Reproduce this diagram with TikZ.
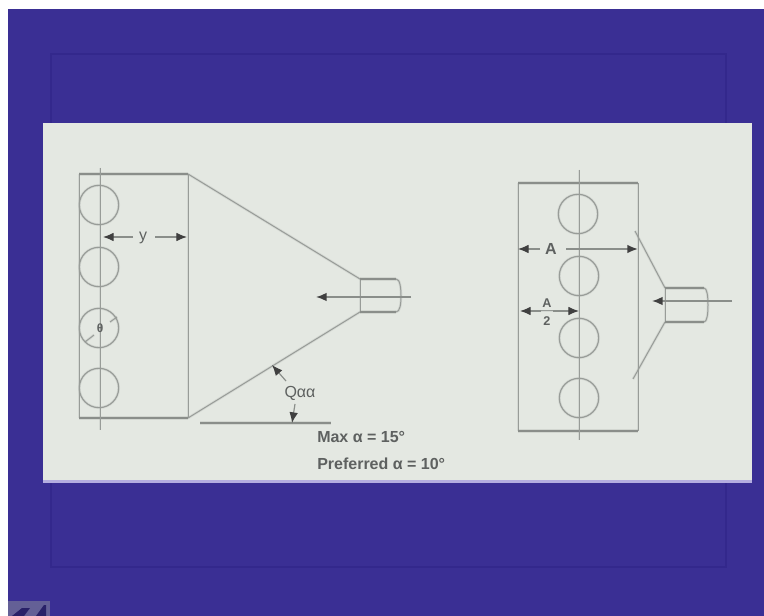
\documentclass[tikz,border=0pt]{standalone}
\usepackage{fontspec}
\setmainfont{Liberation Sans}
\usetikzlibrary{arrows.meta}
\definecolor{slide}{HTML}{3A2F94}
\definecolor{frameblue}{HTML}{33288C}
\definecolor{panel}{HTML}{E4E8E2}
\definecolor{edgelav}{HTML}{B4AEE0}
\definecolor{ink}{HTML}{989C98}
\definecolor{heavy}{HTML}{8A8E8A}
\definecolor{txt}{HTML}{5E6160}
\tikzset{
  thin line/.style={draw=ink,line width=.75pt,preaction={draw=ink,line width=2pt,opacity=.2}},
  heavy line/.style={draw=heavy,line width=1.5pt,preaction={draw=heavy,line width=3pt,opacity=.2}},
  bore/.style={circle,draw=ink,line width=.85pt,minimum size=29.5pt,inner sep=0pt,preaction={draw=ink,line width=2pt,opacity=.2}},
  dim/.style={draw=heavy,line width=.9pt,-{Latex[length=8pt,width=6.5pt,black!75]}},
  lab/.style={inner sep=0pt,text=txt,font=\fontsize{12pt}{14pt}\selectfont},
  note/.style={inner sep=0pt,anchor=west,text=txt,font=\fontsize{12pt}{14pt}\selectfont\bfseries}
}
\begin{document}
\begin{tikzpicture}[x=.75pt,y=-.75pt]
\useasboundingbox (0,0) rectangle (764,616);
\fill[white] (0,0) rectangle (764,616);
\fill[slide] (8,9) rectangle (764,616);
\draw[frameblue,line width=1.4pt] (51,54) rectangle (726,567);
\fill[edgelav] (43,478) rectangle (752,483);
\fill[panel] (43,123) rectangle (752,480);
\fill[ink!45!slide] (8,601) -- (50,601) -- (50,616) -- (8,616) -- cycle;
\fill[slide!70!black] (12,616) -- (22,608) -- (30,608) -- (24,616) -- cycle;
\fill[slide!70!black] (36,616) -- (44,605) -- (46,605) -- (46,616) -- cycle;

% left figure
\coordinate (lTL) at (79,174); \coordinate (lTR) at (188,174);
\coordinate (lBL) at (79,418); \coordinate (lBR) at (188,418);
\draw[thin line] (lTL) -- (lBL);
\draw[thin line] (lTR) -- (lBR);
\draw[heavy line] (lTL) -- (lTR);
\draw[heavy line] (lBL) -- (lBR);
\coordinate (lcT) at (100,168); \coordinate (lcB) at (100,430);
\draw[thin line] (lcT) -- (lcB);
\node[bore] (c1) at (99,205) {};
\node[bore] (c2) at (99,267) {};
\node[bore] (c3) at (99,328) {};
\node[bore] (c4) at (99,388) {};
\node[lab,font=\fontsize{9pt}{10pt}\selectfont\bfseries] (theta) at (100,328) {θ};
\coordinate (dA) at (85,342); \coordinate (dB) at (94,335);
\coordinate (dC) at (110,322); \coordinate (dD) at (117,317);
\draw[thin line] (dA) -- (dB);
\draw[thin line] (dC) -- (dD);
\node[lab] (y) at (143,238) {y};
\coordinate (yL) at (103,237); \coordinate (yR) at (187,237);
\coordinate (yl0) at (133,237); \coordinate (yr0) at (155,237);
\draw[dim] (yl0) -- (yL);
\draw[dim] (yr0) -- (yR);

% left nozzle
\coordinate (n1a) at (360,279); \coordinate (n1b) at (360,312);
\draw[thin line] (lTR) -- (n1a);
\draw[thin line] (lBR) -- (n1b);
\draw[thin line] (n1a) -- (n1b);
\coordinate (n1c) at (396,279); \coordinate (n1d) at (396,312);
\coordinate (n1e) at (401,296);
\draw[heavy line,line width=1pt] (n1a) -- (n1c);
\draw[heavy line,line width=1pt] (n1b) -- (n1d);
\draw[thin line] (n1c) .. controls (400,279) and (401,288) .. (n1e) .. controls (401,304) and (400,312) .. (n1d);
\coordinate (a1s) at (411,297); \coordinate (a1e) at (316,297);
\draw[dim,line width=1.2pt] (a1s) -- (a1e);

% angle
\coordinate (gL) at (200,423); \coordinate (gR) at (331,423);
\draw[heavy line] (gL) -- (gR);
\node[lab] (alpha) at (300,393) {Qαα};
\coordinate (tip1) at (272,365); \coordinate (tip2) at (292,423);
\coordinate (up0) at (286,381); \coordinate (dn0) at (295,404);
\draw[dim] (up0) -- (tip1);
\draw[dim] (dn0) -- (tip2);

\node[note] (mx) at (317,437) {Max α = 15°};
\node[note] (pf) at (317,464) {Preferred α = 10°};

% right figure
\coordinate (rTL) at (518,183); \coordinate (rTR) at (638,183);
\coordinate (rBL) at (518,431); \coordinate (rBR) at (638,431);
\draw[thin line] (rTL) -- (rBL);
\draw[thin line] (rTR) -- (rBR);
\draw[heavy line] (rTL) -- (rTR);
\draw[heavy line] (rBL) -- (rBR);
\coordinate (rcT) at (579,170); \coordinate (rcB) at (579,440);
\draw[thin line] (rcT) -- (rcB);
\node[bore] (r1) at (578,214) {};
\node[bore] (r2) at (579,276) {};
\node[bore] (r3) at (579,338) {};
\node[bore] (r4) at (579,398) {};
\node[lab,font=\fontsize{12pt}{14pt}\selectfont\bfseries] (A) at (551,249) {A};
\coordinate (AL) at (518,249); \coordinate (AR) at (638,249);
\coordinate (Al0) at (540,249); \coordinate (Ar0) at (566,249);
\draw[dim] (Al0) -- (AL);
\draw[dim,line width=1.4pt] (Ar0) -- (AR);
\node[lab,font=\fontsize{9.5pt}{10pt}\selectfont\bfseries] (Atop) at (547,303) {A};
\node[lab,font=\fontsize{9.5pt}{10pt}\selectfont\bfseries] (Abot) at (547,321) {2};
\coordinate (hL) at (520,311); \coordinate (hR) at (579,311);
\coordinate (hl0) at (541,311); \coordinate (hr0) at (553,311);
\draw[thin line] (hl0) -- (hr0);
\draw[dim] (hl0) -- (hL);
\draw[dim] (hr0) -- (hR);

% right nozzle
\coordinate (n2a) at (665,288); \coordinate (n2b) at (665,322);
\coordinate (rU) at (635,231); \coordinate (rD) at (633,379);
\draw[thin line] (rU) -- (n2a);
\draw[thin line] (rD) -- (n2b);
\draw[thin line] (n2a) -- (n2b);
\coordinate (n2c) at (704,288); \coordinate (n2d) at (704,322);
\coordinate (n2e) at (708,305);
\draw[heavy line,line width=1pt] (n2a) -- (n2c);
\draw[heavy line,line width=1pt] (n2b) -- (n2d);
\draw[thin line] (n2c) .. controls (707,288) and (708,296) .. (n2e) .. controls (708,314) and (707,322) .. (n2d);
\coordinate (a2s) at (732,301); \coordinate (a2e) at (652,301);
\draw[dim,line width=1.2pt] (a2s) -- (a2e);
\end{tikzpicture}
\end{document}
